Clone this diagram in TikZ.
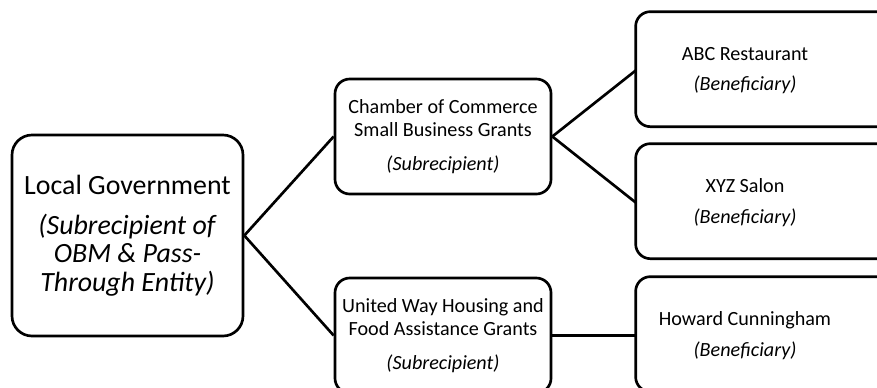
\documentclass[tikz,border=0pt]{standalone}
\usepackage{fontspec}
\setmainfont{Carlito}

\begin{document}
\begin{tikzpicture}[x=0.75pt, y=-0.75pt,
  box/.style={draw, line width=2pt, rounded corners=11pt, align=center, inner sep=0pt,
    minimum width=162pt, minimum height=86.25pt, font=\fontsize{15.1}{17.3}\selectfont},
  textonly/.style={box, draw=none},
  link/.style={line width=2pt}]
\clip (0,0) rectangle (877,387);

%% left
\node[box, rounded corners=15pt, minimum width=173.25pt, minimum height=150.75pt,
  font=\fontsize{20.9}{21.2}\selectfont] (gov) at (127.5,235.5)
  {Local Government\\[9pt] \textit{(Subrecipient of}\\ \textit{OBM \& Pass-}\\ \textit{Through Entity)}};

%% middle
\node[box] (chamber) at (443,136.5)
  {Chamber of Commerce\\ Small Business Grants\\[8.5pt] \textit{(Subrecipient)}};
\node[box] (unitedway) at (443,335.5)
  {United Way Housing and\\ Food Assistance Grants\\[8.5pt] \textit{(Subrecipient)}};

%% right, boxes run past the edge
\node[textonly] (abc) at (745,70.5) {ABC Restaurant\\[5.5pt] \textit{(Beneficiary)}};
\node[textonly] (xyz) at (745,202.5) {XYZ Salon\\[5.5pt] \textit{(Beneficiary)}};
\node[textonly] (howard) at (745,335.5) {Howard Cunningham\\[5.5pt] \textit{(Beneficiary)}};
\foreach \n in {abc,xyz,howard}
  \draw[line width=2pt, rounded corners=11pt] (\n.north west) rectangle ++(300,115);

\draw[link] (gov.east) -- (chamber.west);   %%Up
\draw[link] (gov.east) -- (unitedway.west); %%Down
\draw[link] (chamber.east) -- (abc.west);
\draw[link] (chamber.east) -- (xyz.west);
\draw[link] (unitedway.east) -- (howard.west);
\end{tikzpicture}
\end{document}
